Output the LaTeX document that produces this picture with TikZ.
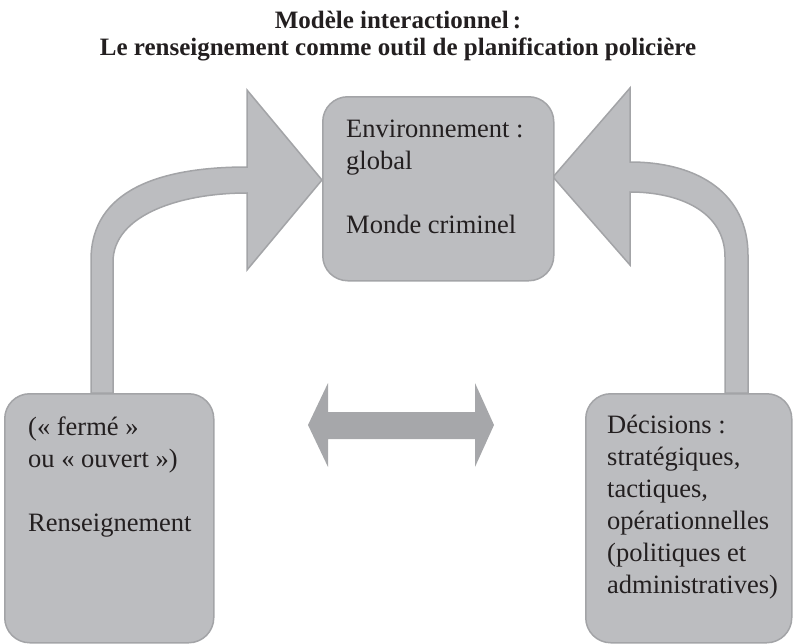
\documentclass[tikz,border=0pt]{standalone}
\usepackage{fontspec}
\setmainfont{Liberation Serif}
\definecolor{boxfill}{HTML}{BCBDC0}
\definecolor{boxline}{HTML}{A3A4A7}
\definecolor{darkarrow}{HTML}{A6A7AA}
\definecolor{ink}{HTML}{231F20}
\tikzset{
  box/.style={draw=boxline, fill=boxfill, line width=1.5pt, rounded corners=25pt, inner sep=0pt, anchor=north west},
  bigarrow/.style={draw=boxline, fill=boxfill, line width=1.5pt, line join=miter},
  dblarrow/.style={fill=darkarrow, draw=none},
  txt/.style={anchor=base west, inner sep=0pt, text=ink, font=\fontsize{26.5}{32}\selectfont},
  ttl/.style={anchor=base, inner sep=0pt, text=ink, font=\fontsize{25}{27}\selectfont\bfseries}
}
\begin{document}
\begin{tikzpicture}[x=1pt,y=-1pt]
\useasboundingbox (0,0) rectangle (793,643);
% title
\node[ttl] (title) at (398,28) {\begin{tabular}[t]{@{}c@{}}Modèle interactionnel\,:\\Le renseignement comme outil de planification policière\end{tabular}};
% curved arrows
\path[bigarrow] (91,393) -- (91,260) .. controls (91,190) and (160,167) .. (247,167) -- (247,90) -- (322,180) -- (247,270) -- (247,193) .. controls (180,193) and (113,215) .. (113,262) -- (113,393) -- cycle;
\path[bigarrow] (748,393) -- (748,255) .. controls (748,195) and (700,162) .. (630,162) -- (630,88) -- (553,177) -- (630,265) -- (630,192) .. controls (680,192) and (725,212) .. (725,257) -- (725,393) -- cycle;
% double arrow
\path[dblarrow] (308,425) -- (328,383) -- (328,412) -- (475,412) -- (475,383) -- (494,425) -- (475,467) -- (475,439) -- (328,439) -- (328,467) -- cycle;
% boxes
\node[box, minimum width=231pt, minimum height=184pt] (env) at (322,96) {};
\node[box, minimum width=209pt, minimum height=249pt] (rens) at (4,393) {};
\node[box, minimum width=206pt, minimum height=249pt] (dec) at (585,393) {};
% texts
\node[txt] (envtxt) at (346,137) {\begin{tabular}[t]{@{}l@{}}Environnement :\\global\\ \\Monde criminel\end{tabular}};
\node[txt] (renstxt) at (28,435) {\begin{tabular}[t]{@{}l@{}}(«~fermé~»\\ou «~ouvert~»)\\ \\Renseignement\end{tabular}};
\node[txt] (dectxt) at (607,433) {\begin{tabular}[t]{@{}l@{}}Décisions :\\stratégiques,\\tactiques,\\opérationnelles\\(politiques et\\administratives)\end{tabular}};
\end{tikzpicture}
\end{document}
